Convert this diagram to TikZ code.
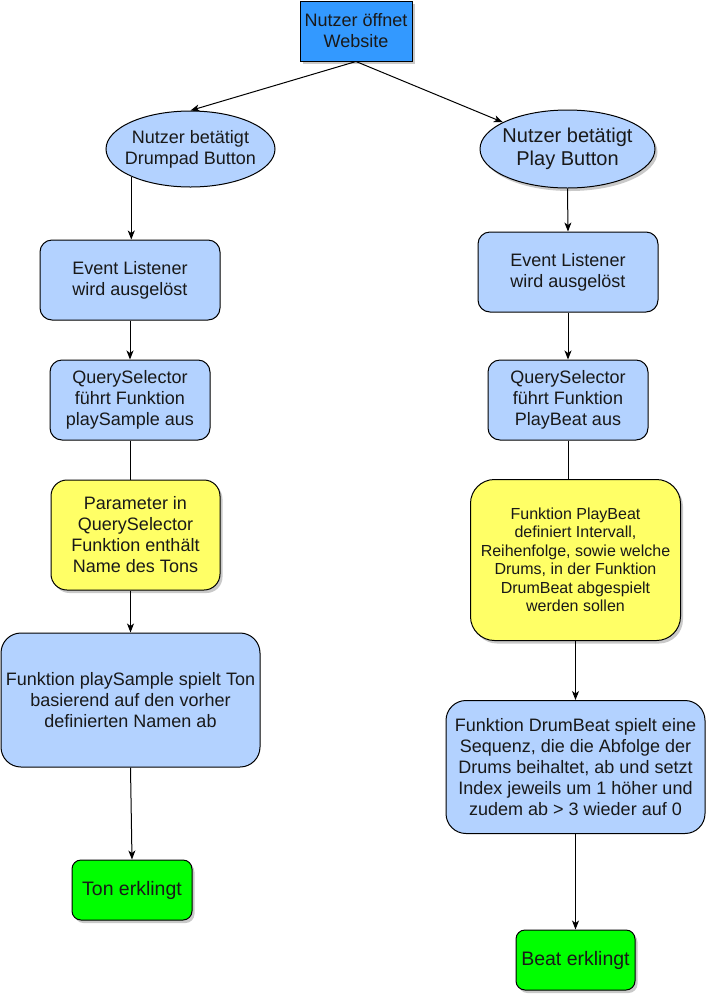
\documentclass[tikz,border=0pt]{standalone}
\usepackage{fontspec}
\setmainfont{Liberation Sans}
\usetikzlibrary{arrows.meta,shapes.geometric,shadows}

\definecolor{lightblue}{RGB}{179,210,255}
\definecolor{webblue}{RGB}{51,153,255}
\definecolor{noteyellow}{RGB}{255,255,102}
\definecolor{soundgreen}{RGB}{0,255,0}

\begin{document}
\begin{tikzpicture}[x=1pt,y=-1pt,
  every node/.style={font=\fontsize{18}{21}\selectfont, text=black!90},
  base/.style={draw, line width=1pt, align=center, inner sep=0pt},
  shadowed/.style={drop shadow={shadow xshift=2.5pt, shadow yshift=-3pt, fill=black!30, opacity=0.7}},
  proc/.style={base, rectangle, fill=lightblue},
  note/.style={base, rectangle, fill=noteyellow, shadowed},
  sound/.style={base, rectangle, rounded corners=9pt, fill=soundgreen, shadowed, font=\fontsize{19.5}{22}\selectfont},
  click/.style={base, ellipse, fill=lightblue, inner xsep=-8pt},
  arr/.style={line width=1pt, -{Stealth[length=9pt,width=7pt,inset=2.5pt]}},
  link/.style={line width=1pt}]

  % Fix the page to the size of the reference
  \useasboundingbox (0,0) rectangle (706,994);

  % Start: the user opens the website
  \node[base, fill=webblue, shadowed, minimum width=112pt, minimum height=60pt] (web) at (356,31) {Nutzer öffnet\\Website};

  % The two buttons
  \node[click, minimum width=169pt, minimum height=76pt] (btnL) at (190.5,149) {Nutzer betätigt\\Drumpad Button};
  \node[click, shadowed, minimum width=175pt, minimum height=78pt, font=\fontsize{20}{23}\selectfont] (btnR) at (567.5,149) {Nutzer betätigt\\Play Button};

  % Left column: drumpad
  \node[proc, rounded corners=12pt, minimum width=180pt, minimum height=80pt] (evL) at (130,280) {Event Listener\\wird ausgelöst};
  \node[proc, rounded corners=12pt, minimum width=160pt, minimum height=80pt] (qsL) at (130,400) {QuerySelector\\führt Funktion\\playSample aus};
  \node[note, rounded corners=16pt, minimum width=169pt, minimum height=110pt] (parL) at (135.5,535) {Parameter in\\QuerySelector\\Funktion enthält\\Name des Tons};
  \node[proc, rounded corners=20pt, minimum width=259pt, minimum height=134pt] (playL) at (130.5,700) {Funktion playSample spielt Ton\\basierend auf den vorher\\definierten Namen ab};
  \node[sound, minimum width=120pt, minimum height=60pt] (tonL) at (132,890) {Ton erklingt};

  % Right column: play button
  \node[proc, rounded corners=12pt, minimum width=180pt, minimum height=80pt] (evR) at (568,272) {Event Listener\\wird ausgelöst};
  \node[proc, rounded corners=12pt, minimum width=160pt, minimum height=80pt] (qsR) at (568,400) {QuerySelector\\führt Funktion\\PlayBeat aus};
  \node[note, rounded corners=24pt, minimum width=210pt, minimum height=161pt, font=\fontsize{16}{18.5}\selectfont] (parR) at (575.5,560) {Funktion PlayBeat\\definiert Intervall,\\Reihenfolge, sowie welche\\Drums, in der Funktion\\DrumBeat abgespielt\\werden sollen};
  \node[proc, rounded corners=20pt, minimum width=259pt, minimum height=133pt] (drumR) at (575.5,767) {Funktion DrumBeat spielt eine\\Sequenz, die die Abfolge der\\Drums beihaltet, ab und setzt\\Index jeweils um 1 höher und\\zudem ab > 3 wieder auf 0};
  \node[sound, minimum width=119pt, minimum height=60pt] (beatR) at (575.5,960) {Beat erklingt};

  % Connectors from the start
  \draw[arr] (web.south) -- (btnL.north);
  \draw[arr] (web.south) -- (btnR);

  % Connectors on the left
  \draw[arr] (btnL.205) -- (btnL.205 |- evL.north);
  \draw[arr] (evL) -- (qsL);
  \draw[link] (qsL.south) -- (qsL.south |- parL.north);
  \draw[arr] (playL.north |- parL.south) -- (playL.north);
  \draw[arr] (playL.south) -- (tonL.north);

  % Connectors on the right
  \draw[arr] (btnR.south) -- (evR.north);
  \draw[arr] (evR) -- (qsR);
  \draw[link] (qsR.south) -- (qsR.south |- parR.north);
  \draw[arr] (parR) -- (drumR);
  \draw[arr] (drumR) -- (beatR);

\end{tikzpicture}
\end{document}
